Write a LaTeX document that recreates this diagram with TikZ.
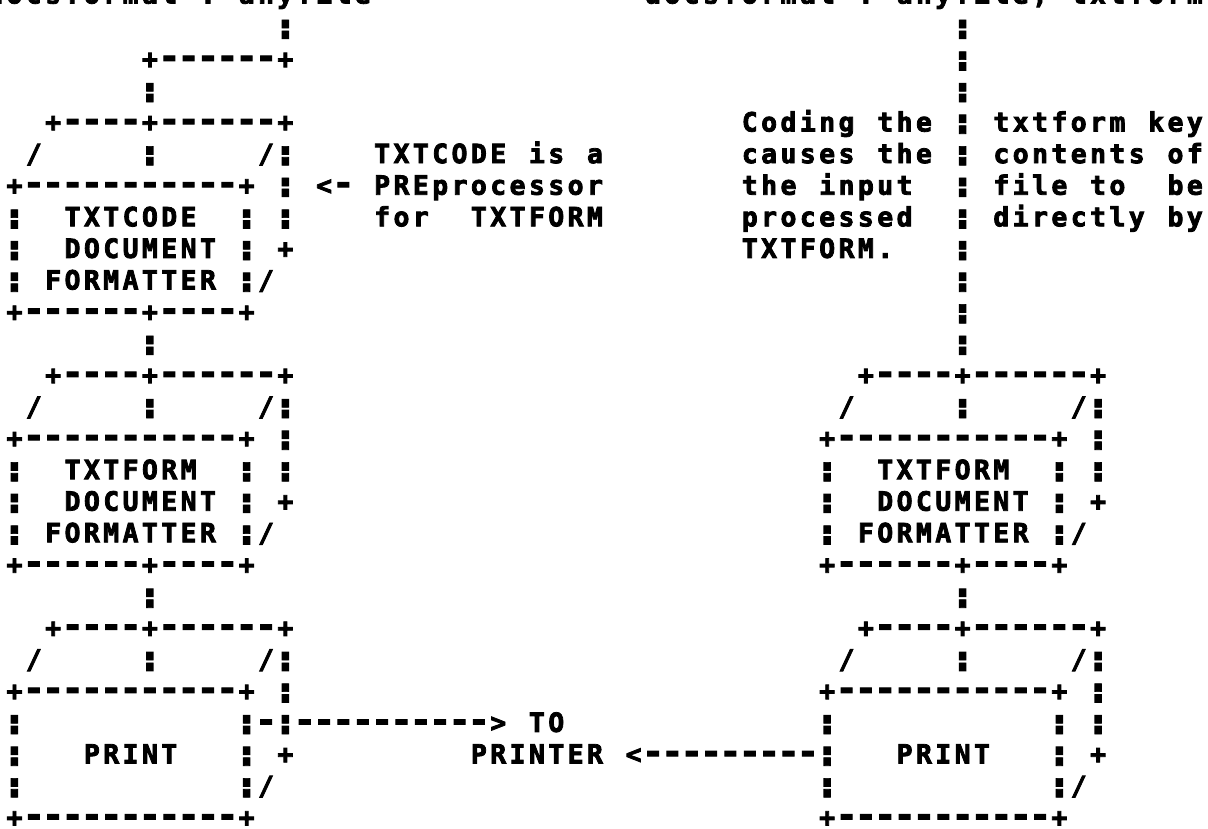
\documentclass[tikz,border=0pt]{standalone}
\usepackage{fontspec}
\usepackage{graphicx}
\newfontfamily\prfont{DejaVu Sans Mono}[BoldFeatures={FakeBold=3}]
\ExplSyntaxOn
\NewDocumentCommand\gstr{m}{
  \str_map_inline:nn {#1}
    {
      \str_case:nnF {##1}
        {
          {-} { \makebox[19.35pt][c]{\makebox[0pt][c]{\scalebox{1.35}[1.3]{-}}} }
          {¦} { \makebox[19.35pt][c]{\makebox[0pt][c]{\raisebox{1.5pt}{\scalebox{2}[0.82]{¦}}}} }
        }
        { \makebox[19.35pt][c]{##1} }
    }
}
\ExplSyntaxOff
\tikzset{cell/.style={inner sep=0pt, outer sep=0pt, anchor=base west,
  font=\prfont\bfseries\fontsize{26.5pt}{26.5pt}\selectfont}}
% #1 name, #2 column, #3 row, #4 characters
\newcommand\fr[4]{\node[cell] (#1) at ({19.35*(#2)+4.825},{-31.6*(#3)-5.1}) {\gstr{#4}};}
\begin{document}
\begin{tikzpicture}[x=1pt,y=1pt]
\fill[white] (0,0) rectangle (1208,-829);
\useasboundingbox (0,0) rectangle (1208,-829);
% row 0 (cut at the top)
\node[cell] (cmdL) at ({19.35*(-1)+4.825},-3.5) {\gstr{docsformat : anyfile}};
\node[cell] (cmdR) at ({19.35*33+4.825},-3.5) {\gstr{docsformat : anyfile, txtform}};
% rows 1-3
\fr{r1a}{14}{1}{¦}
\fr{r1b}{49}{1}{¦}
\fr{r2a}{7}{2}{+------+}
\fr{r2b}{49}{2}{¦}
\fr{r3a}{7}{3}{¦}
\fr{r3b}{49}{3}{¦}
% TXTCODE box
\fr{r4a}{2}{4}{+----+------+}
\fr{r4b}{38}{4}{Coding the}
\fr{r4c}{49}{4}{¦}
\fr{r4d}{51}{4}{txtform key}
\fr{r5a}{1}{5}{/}
\fr{r5b}{7}{5}{¦}
\fr{r5c}{13}{5}{/¦}
\fr{r5d}{19}{5}{TXTCODE is a}
\fr{r5e}{38}{5}{causes the}
\fr{r5f}{49}{5}{¦}
\fr{r5g}{51}{5}{contents of}
\fr{r6a}{0}{6}{+-----------+}
\fr{r6b}{14}{6}{¦}
\fr{r6c}{16}{6}{<-}
\fr{r6d}{19}{6}{PREprocessor}
\fr{r6e}{38}{6}{the input}
\fr{r6f}{49}{6}{¦}
\fr{r6g}{51}{6}{file to}
\fr{r6h}{60}{6}{be}
\fr{r7a}{0}{7}{¦}
\fr{txtcode}{3}{7}{TXTCODE}
\fr{r7c}{12}{7}{¦ ¦}
\fr{r7d}{19}{7}{for}
\fr{r7e}{24}{7}{TXTFORM}
\fr{r7f}{38}{7}{processed}
\fr{r7g}{49}{7}{¦}
\fr{r7h}{51}{7}{directly by}
\fr{r8a}{0}{8}{¦}
\fr{r8b}{3}{8}{DOCUMENT}
\fr{r8c}{12}{8}{¦ +}
\fr{r8d}{38}{8}{TXTFORM.}
\fr{r8e}{49}{8}{¦}
\fr{r9a}{0}{9}{¦ FORMATTER ¦/}
\fr{r9b}{49}{9}{¦}
\fr{r10a}{0}{10}{+------+----+}
\fr{r10b}{49}{10}{¦}
\fr{r11a}{7}{11}{¦}
\fr{r11b}{49}{11}{¦}
% TXTFORM boxes
\fr{r12a}{2}{12}{+----+------+}
\fr{r12b}{44}{12}{+----+------+}
\fr{r13a}{1}{13}{/}
\fr{r13b}{7}{13}{¦}
\fr{r13c}{13}{13}{/¦}
\fr{r13d}{43}{13}{/}
\fr{r13e}{49}{13}{¦}
\fr{r13f}{55}{13}{/¦}
\fr{r14a}{0}{14}{+-----------+ ¦}
\fr{r14b}{42}{14}{+-----------+ ¦}
\fr{r15a}{0}{15}{¦}
\fr{txtformL}{3}{15}{TXTFORM}
\fr{r15c}{12}{15}{¦ ¦}
\fr{r15d}{42}{15}{¦}
\fr{txtformR}{45}{15}{TXTFORM}
\fr{r15f}{54}{15}{¦ ¦}
\fr{r16a}{0}{16}{¦}
\fr{r16b}{3}{16}{DOCUMENT}
\fr{r16c}{12}{16}{¦ +}
\fr{r16d}{42}{16}{¦}
\fr{r16e}{45}{16}{DOCUMENT}
\fr{r16f}{54}{16}{¦ +}
\fr{r17a}{0}{17}{¦ FORMATTER ¦/}
\fr{r17b}{42}{17}{¦ FORMATTER ¦/}
\fr{r18a}{0}{18}{+------+----+}
\fr{r18b}{42}{18}{+------+----+}
\fr{r19a}{7}{19}{¦}
\fr{r19b}{49}{19}{¦}
% PRINT boxes
\fr{r20a}{2}{20}{+----+------+}
\fr{r20b}{44}{20}{+----+------+}
\fr{r21a}{1}{21}{/}
\fr{r21b}{7}{21}{¦}
\fr{r21c}{13}{21}{/¦}
\fr{r21d}{43}{21}{/}
\fr{r21e}{49}{21}{¦}
\fr{r21f}{55}{21}{/¦}
\fr{r22a}{0}{22}{+-----------+ ¦}
\fr{r22b}{42}{22}{+-----------+ ¦}
\fr{r23a}{0}{23}{¦}
\fr{r23b}{12}{23}{¦-¦---------->}
\fr{r23c}{27}{23}{TO}
\fr{r23d}{42}{23}{¦}
\fr{r23e}{54}{23}{¦ ¦}
\fr{r24a}{0}{24}{¦}
\fr{printL}{4}{24}{PRINT}
\fr{r24c}{12}{24}{¦ +}
\fr{r24d}{24}{24}{PRINTER <---------¦}
\fr{printR}{46}{24}{PRINT}
\fr{r24f}{54}{24}{¦ +}
\fr{r25a}{0}{25}{¦}
\fr{r25b}{12}{25}{¦/}
\fr{r25c}{42}{25}{¦}
\fr{r25d}{54}{25}{¦/}
\fr{r26a}{0}{26}{+-----------+}
\fr{r26b}{42}{26}{+-----------+}
\end{tikzpicture}
\end{document}
